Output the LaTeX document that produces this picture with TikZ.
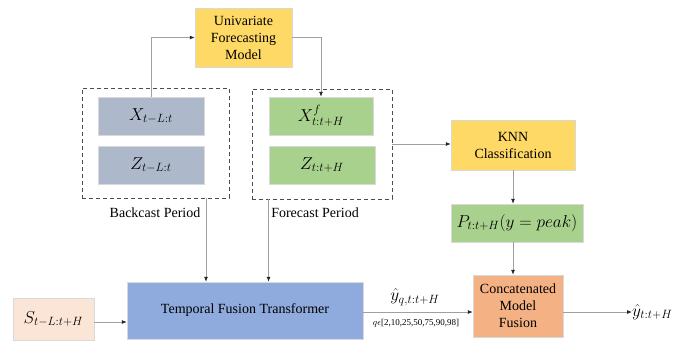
\documentclass[tikz,border=0pt]{standalone}
\usepackage{fontspec}
\setmainfont{Liberation Serif}
\usetikzlibrary{arrows.meta,calc}
\definecolor{cgrey}{HTML}{ADB9CA}
\definecolor{cgreen}{HTML}{A9D18E}
\definecolor{cyellow}{HTML}{FFD966}
\definecolor{cblue}{HTML}{8FAADC}
\definecolor{cpeach}{HTML}{FBE5D6}
\definecolor{corange}{HTML}{F4B183}
\definecolor{cline}{HTML}{A0A0A0}
\begin{document}
\begin{tikzpicture}[x=1pt,y=-1pt,
  box/.style={rectangle,draw=white!85!black,line width=0.4pt,inner sep=2pt,align=center,
    font=\fontsize{14}{17}\selectfont},
  mbox/.style={box,font=\fontsize{16.5}{19}\selectfont},
  dbox/.style={rectangle,draw=black!70,dash pattern=on 4pt off 3pt,line width=0.9pt},
  conn/.style={draw=cline,line width=0.8pt,-{Latex[length=5pt,width=4pt,color=black!85]}},
  lbl/.style={font=\fontsize{14}{17}\selectfont,inner sep=0pt},
  mlbl/.style={font=\fontsize{16.5}{19}\selectfont,inner sep=0pt}]
\useasboundingbox (0,0) rectangle (684,342);
% backcast group
\node[dbox,minimum width=147pt,minimum height=110pt] (bc) at (155.5,143) {};
\node[mbox,fill=cgrey,minimum width=106pt,minimum height=38pt] (X) at (151,116) {$X_{t-L{:}t}$};
\node[mbox,fill=cgrey,minimum width=106pt,minimum height=38pt] (Z) at (151,165) {$Z_{t-L{:}t}$};
% forecast group
\node[dbox,minimum width=140pt,minimum height=110pt] (fc) at (322,144) {};
\node[mbox,fill=cgreen,minimum width=104pt,minimum height=38pt] (Xf) at (321,116) {$X^{f}_{t{:}t+H}$};
\node[mbox,fill=cgreen,minimum width=106pt,minimum height=38pt] (Zf) at (322,165) {$Z_{t{:}t+H}$};
% model boxes
\node[box,fill=cyellow,minimum width=97pt,minimum height=59pt] (uni) at (243.5,37.5) {Univariate\\Forecasting\\Model};
\node[box,fill=cyellow,minimum width=124pt,minimum height=50pt] (knn) at (513,145) {KNN\\Classification};
\node[mbox,fill=cgreen,minimum width=132pt,minimum height=38pt] (P) at (517,223) {$P_{t{:}t+H}(y=peak)$};
\node[box,fill=corange,minimum width=90pt,minimum height=62pt] (cat) at (518,306) {Concatenated\\Model\\Fusion};
\node[box,fill=cblue,minimum width=236pt,minimum height=57pt] (tft) at (245,310.5) {Temporal Fusion Transformer};
\node[mbox,fill=cpeach,minimum width=81pt,minimum height=42pt] (S) at (53.5,319) {$S_{t-L{:}t+H}$};
% labels
\node[lbl] (bcl) at (155,213) {Backcast Period};
\node[lbl] (fcl) at (315,213) {Forecast Period};
\node[mlbl,anchor=west] (out) at (632,312) {$\hat{y}_{t{:}t+H}$};
\node[mlbl] (yq) at (415,297) {$\hat{y}_{q,t{:}t+H}$};
\node[inner sep=0pt,font=\fontsize{9}{11}\selectfont] (ql) at (416,323) {$q\epsilon$[2,10,25,50,75,90,98]};
% connectors
\draw[conn] (X.north) |- (uni.west);
\draw[conn] (uni.east) -| (Xf.north);
\draw[conn] (fc.east) -- (fc.east -| knn.west);
\draw[conn] (knn.south) -- (knn.south |- P.north);
\draw[conn] (knn.south |- P.south) -- (knn.south |- cat.north);
\draw[conn] ([xshift=50.5pt]bc.south) -- ([xshift=50.5pt]bc.south |- tft.north);
\draw[conn] ([xshift=17pt]fc.south west) -- ([xshift=17pt]fc.south west |- tft.north);
\draw[conn] ([yshift=-3pt]S.east) -- ([yshift=-3pt]S.east -| tft.west);
\draw[conn] ([yshift=-1.5pt]tft.east) -- ([yshift=-1.5pt]tft.east -| cat.west);
\draw[conn] ([yshift=-6pt]cat.east) -- ([yshift=-6pt]cat.east -| out.west);
\end{tikzpicture}
\end{document}
